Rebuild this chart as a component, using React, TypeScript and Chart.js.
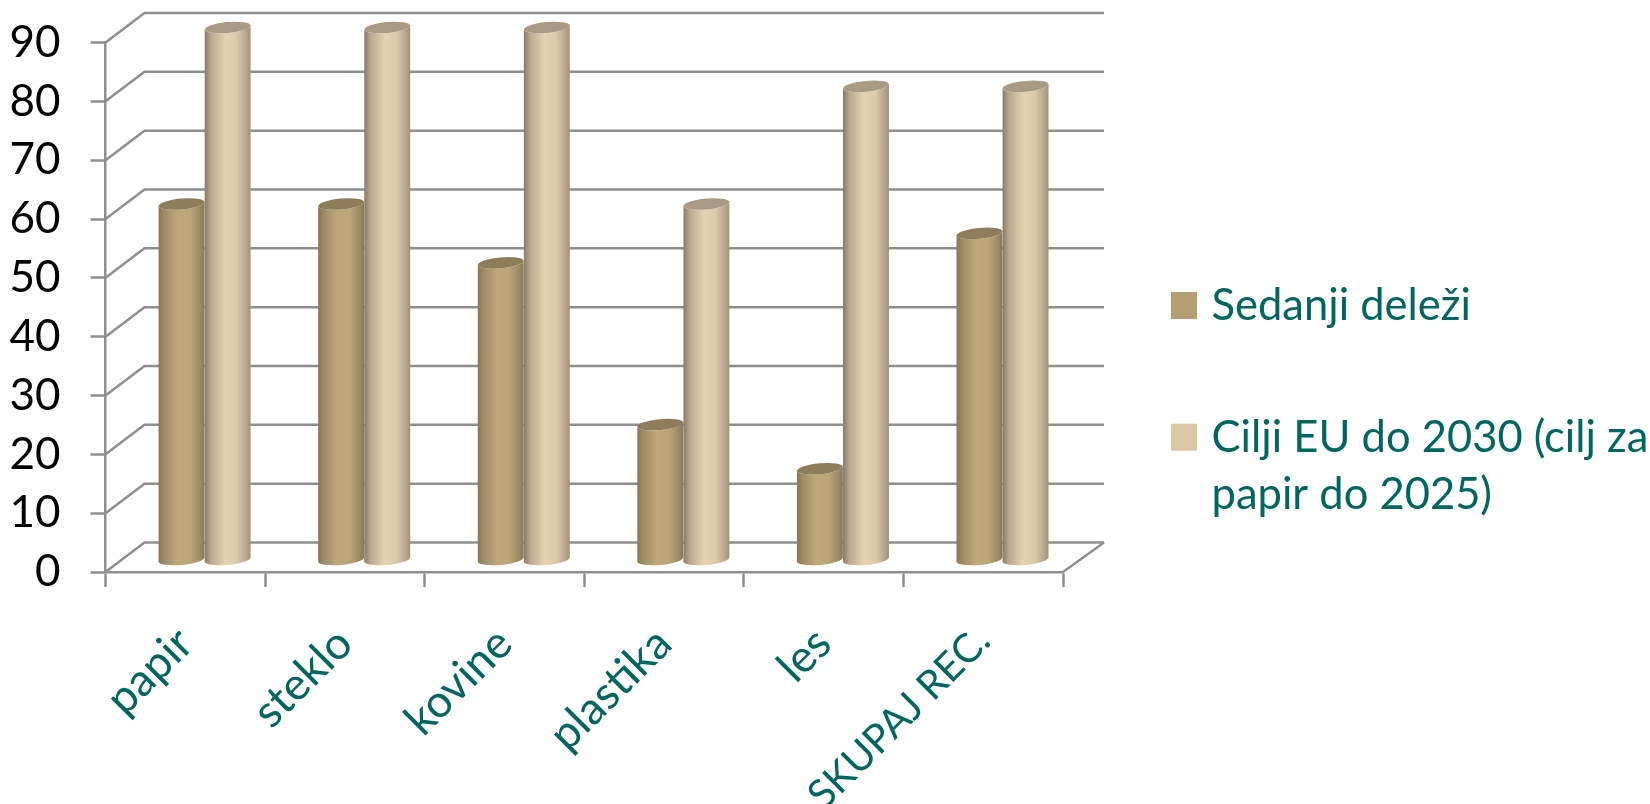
import React, { useEffect, useRef } from "react";
import { Chart, registerables } from "chart.js";

Chart.register(...registerables);

const categories = ["papir", "steklo", "kovine", "plastika", "les", "SKUPAJ REC."];
const currentShares = [60, 60, 50, 22.5, 15, 55];
const euTargets = [90, 90, 90, 60, 80, 80];
const seriesNames = ["Sedanji deleži", "Cilji EU do 2030 (cilj za papir do 2025)"];
const legendLines = [["Sedanji deleži"], ["Cilji EU do 2030 (cilj za", "papir do 2025)"]];

const GRID = "#8f8f8f";
const TEAL = "#00665f";
const FONT = "Lato";
const PLOT_TOP = 42.5;
const DEPTH_X = 39;
const DEPTH_Y = 29.5;
const BAR_DX = 19.3;

const palettes = [
  {
    stops: [[0, "#86765a"], [0.14, "#a08d68"], [0.42, "#bfa97b"], [0.7, "#baa577"], [0.9, "#9c8a64"], [1, "#87775a"]],
    top: "#8d7d5a",
    swatch: "#b39d72",
  },
  {
    stops: [[0, "#85796a"], [0.14, "#b9aa8e"], [0.45, "#e3d3b1"], [0.7, "#dccbaa"], [0.9, "#b5a78c"], [1, "#a09279"]],
    top: "#a99b83",
    swatch: "#d9c7a6",
  },
];

const scene3d = {
  id: "scene3d",
  afterLayout(chart: any) {
    const y = chart.scales.y;
    y.top = PLOT_TOP;
    y.height = y.bottom - PLOT_TOP;
    y.configure();
    chart.chartArea.top = PLOT_TOP;
    chart.chartArea.height = chart.chartArea.bottom - PLOT_TOP;
  },
  beforeDatasetsDraw(chart: any) {
    const { ctx, chartArea, scales } = chart;
    const { left, right } = chartArea;
    ctx.save();
    ctx.strokeStyle = GRID;
    ctx.lineWidth = 2.5;
    scales.y.ticks.forEach((t: any) => {
      const y = scales.y.getPixelForValue(t.value);
      ctx.beginPath();
      ctx.moveTo(left, y);
      ctx.lineTo(left + DEPTH_X, y - DEPTH_Y);
      ctx.lineTo(right + DEPTH_X + 2, y - DEPTH_Y);
      ctx.stroke();
    });
    const y0 = scales.y.getPixelForValue(0);
    ctx.beginPath();
    ctx.moveTo(right, y0);
    ctx.lineTo(right + DEPTH_X + 2, y0 - DEPTH_Y);
    ctx.stroke();

    // cylinders, one per library bar element
    const tilt = -0.095;
    categories.forEach((_c, i) => {
      chart.data.datasets.forEach((_d: any, di: number) => {
        const bar = chart.getDatasetMeta(di).data[i];
        const p = palettes[di];
        const cx = bar.x + BAR_DX;
        const rx = bar.width / 2;
        const ry = 5.4;
        const topY = bar.y - 15;
        const botY = bar.base - 12;
        const g = ctx.createLinearGradient(cx - rx, 0, cx + rx, 0);
        p.stops.forEach((s: any) => g.addColorStop(s[0], s[1]));
        ctx.fillStyle = g;
        ctx.beginPath();
        ctx.ellipse(cx, topY, rx, ry, tilt, Math.PI, 0, true);
        ctx.ellipse(cx, botY, rx, ry, tilt, 0, Math.PI, false);
        ctx.closePath();
        ctx.fill();
        ctx.fillStyle = p.top;
        ctx.beginPath();
        ctx.ellipse(cx, topY, rx, ry, tilt, 0, Math.PI * 2);
        ctx.fill();
      });
    });
    ctx.restore();
    return false;
  },
  afterDraw(chart: any) {
    const { ctx } = chart;
    const rows = [
      { y: 320, index: 0 },
      { y: 451.7, index: 1 },
    ];
    ctx.save();
    rows.forEach((row) => {
      ctx.fillStyle = palettes[row.index].swatch;
      ctx.fillRect(1171, row.y - 28, 26, 27);
      ctx.fillStyle = TEAL;
      ctx.font = `43.5px ${FONT}`;
      ctx.textBaseline = "alphabetic";
      legendLines[row.index].forEach((line, li) => {
        ctx.fillText(line, 1211.5, row.y + li * 57.6);
      });
    });
    ctx.restore();
  },
};

export default function App() {
  const ref = useRef<HTMLCanvasElement | null>(null);
  useEffect(() => {
    const chart = new Chart(ref.current as HTMLCanvasElement, {
      type: "bar",
      data: {
        labels: categories,
        datasets: [
          { label: seriesNames[0], data: currentShares, backgroundColor: palettes[0].swatch, categoryPercentage: 0.578, barPercentage: 1 },
          { label: seriesNames[1], data: euTargets, backgroundColor: palettes[1].swatch, categoryPercentage: 0.578, barPercentage: 1 },
        ],
      },
      options: {
        responsive: false,
        animation: false,
        devicePixelRatio: 1,
        layout: { padding: { top: 27.5, right: 587, left: 0, bottom: 0 } },
        plugins: { legend: { display: false }, tooltip: { enabled: false }, title: { display: false } },
        scales: {
          x: {
            afterFit: (s: any) => { s.height = 232; },
            grid: { drawOnChartArea: false, drawTicks: true, tickLength: 15, tickColor: GRID, tickWidth: 2.5 },
            border: { display: true, color: GRID, width: 2.5 },
            ticks: {
              autoSkip: false,
              minRotation: 45,
              maxRotation: 45,
              padding: 30,
              color: TEAL,
              font: (c: any) => ({ family: FONT, size: c.index === categories.length - 1 ? 40 : 45 }),
            },
          },
          y: {
            min: 0,
            max: 90,
            afterFit: (s: any) => { s.width = 105.5; },
            grid: { drawOnChartArea: false, drawTicks: true, tickLength: 15, tickColor: GRID, tickWidth: 2.5 },
            border: { display: true, color: GRID, width: 2.5 },
            ticks: { stepSize: 10, padding: 30, color: "#000000", font: { family: FONT, size: 44 } },
          },
        },
      },
      plugins: [scene3d],
    } as any);
    return () => chart.destroy();
  }, []);
  return (
    <div style={{ position: "absolute", left: 0, top: 0, width: 1650, height: 804, overflow: "hidden", background: "#ffffff" }}>
      <canvas ref={ref} width={1650} height={804} style={{ display: "block" }} />
    </div>
  );
}
